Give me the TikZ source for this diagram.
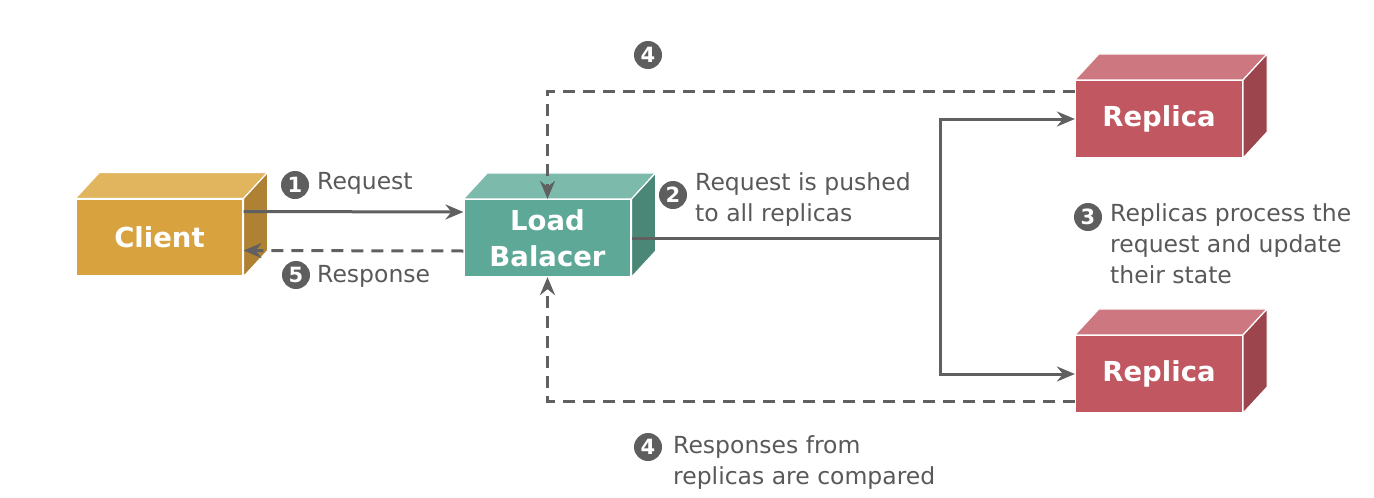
\documentclass[tikz,border=0pt]{standalone}
\usepackage{fontspec}
\setmainfont{DejaVu Sans}
\usetikzlibrary{arrows.meta,positioning}
\definecolor{clientfront}{HTML}{D8A33F}
\definecolor{clienttop}{HTML}{E1B55E}
\definecolor{clientside}{HTML}{AE8133}
\definecolor{lbfront}{HTML}{5EA898}
\definecolor{lbtop}{HTML}{7CBAAC}
\definecolor{lbside}{HTML}{4B8777}
\definecolor{replicafront}{HTML}{C05761}
\definecolor{replicatop}{HTML}{CD7880}
\definecolor{replicaside}{HTML}{9C454D}
\definecolor{linegray}{HTML}{606060}
\definecolor{badgegray}{HTML}{5E5E5E}
\definecolor{textgray}{HTML}{595959}
\newcommand{\cubefaces}[3]
{   \filldraw[fill=#2, draw=white, line width=1.2pt, line join=round] (#1.north west) -- ++(24,-26) -- ([xshift=24pt,yshift=26pt]#1.north east) -- (#1.north east) -- cycle;
    \filldraw[fill=#3, draw=white, line width=1.2pt, line join=round] (#1.north east) -- ++(24,-26) -- ([xshift=24pt,yshift=26pt]#1.south east) -- (#1.south east) -- cycle;
}

\begin{document}
\begin{tikzpicture}[x=1pt,y=-1pt,
  box/.style={rectangle, draw=white, line width=1.2pt, minimum width=167pt, minimum height=77pt,
    inner sep=0pt, text=white, font=\bfseries\fontsize{27.5}{36}\selectfont, align=center},
  badge/.style={circle, fill=badgegray, text=white, font=\bfseries\fontsize{21}{21}\selectfont,
    minimum size=28pt, inner sep=0pt},
  note/.style={text=textgray, font=\fontsize{23.5}{31}\selectfont, align=left, inner sep=0pt},
  wire/.style={draw=linegray, line width=3pt},
  flow/.style={wire, -{Stealth[length=18pt,width=15pt,inset=6pt]}},
  back/.style={flow, dash pattern=on 12pt off 8pt}]

 \useasboundingbox (0,0) rectangle (1374,498);

 % boxes
 \node[box, fill=clientfront] (client) at (159.5,237.5) {Client};
 \cubefaces{client}{clienttop}{clientside}
 \node[box, fill=lbfront] (lb) at (547.5,238) {Load\\Balacer};
 \cubefaces{lb}{lbtop}{lbside}
 \node[box, fill=replicafront] (rtop) at (1159,119) {Replica};
 \cubefaces{rtop}{replicatop}{replicaside}
 \node[box, fill=replicafront] (rbot) at (1159,374) {Replica};
 \cubefaces{rbot}{replicatop}{replicaside}

 % connectors
 \draw[flow] ([yshift=26pt]client.east) -- ([yshift=26pt]lb.west);
 \draw[back] ([yshift=-13pt]lb.west) -- ([yshift=-13pt]client.east);
 \coordinate (split) at (940,238);
 \draw[wire] (lb.east) -- (split);
 \draw[flow] (split) |- (rtop.west);
 \draw[flow] (split) |- (rbot.west);
 \draw[back] ([yshift=28pt]rtop.west) -| (lb.north);
 \draw[back] ([yshift=-27pt]rbot.west) -| (lb.south);

 % steps
 \node[badge] (s1) at (295,185) {1};
 \node[note, anchor=base west] at (317,189) {Request};
 \node[badge] (s5) at (296,275) {5};
 \node[note, anchor=base west] at (317,282) {Response};
 \node[badge] (s2) at (673,195) {2};
 \node[note, anchor=base west] at (695,221) {Request is pushed\\to all replicas};
 \node[badge] (s3) at (1088,217) {3};
 \node[note, anchor=base west] at (1110,283) {Replicas process the\\request and update\\their state};
 \node[badge] (s4a) at (648,55) {4};
 \node[badge] (s4b) at (648,447) {4};
 \node[note, anchor=base west] at (673,484) {Responses from\\replicas are compared};

\end{tikzpicture}
\end{document}
